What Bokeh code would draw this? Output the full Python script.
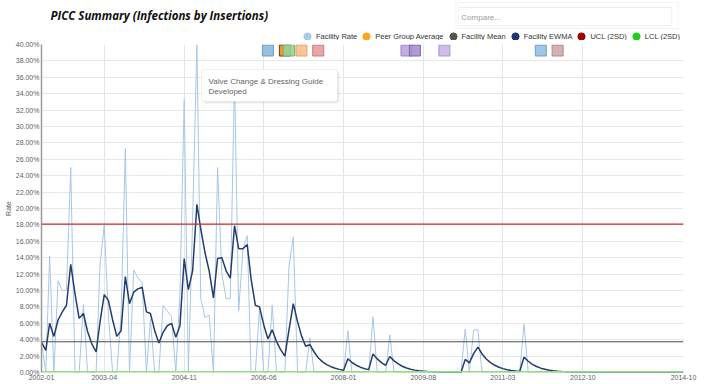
import pandas as pd
from bokeh.plotting import figure
from bokeh.layouts import column
from bokeh.models import (Range1d, FixedTicker, PrintfTickFormatter, DatetimeTickFormatter,
                          Span, Label, BoxAnnotation, Legend, LegendItem, ColumnDataSource)
from bokeh.embed import file_html
from bokeh.resources import INLINE

# ---------------- data ----------------
START_MONTH = "2002-01"
END_MONTH = "2014-10"

facility_rate = [
    3.7, 0, 14.2, 0, 11.2, 10.0, 10.0, 25.0, 0, 0,
    8.3, 0, 0, 0, 13.0, 18.0, 7.0, 0, 0, 7.0,
    27.3, 0, 12.5, 11.5, 11.0, 0, 6.5, 0, 0, 8.2,
    7.5, 6.8, 0, 9.5, 33.3, 0, 18.6, 40.0, 9.0, 6.7,
    7.0, 0, 25.0, 12.0, 9.0, 9.0, 36.0, 7.5, 15.0, 16.7,
    0, 0, 7.8, 0, 0, 8.2, 0, 0, 0, 13.0,
    16.5, 0, 0, 0, 4.2, 0, 0, 0, 0, 0,
    0, 0, 0, 5.1, 0, 0, 0, 0, 0, 6.8,
    0, 0, 0, 4.6, 0, 0, 0, 0, 0, 0,
    0, 0, 0, 0, 0, 0, 0, 0, 0, 0,
    0, 5.3, 0, 5.2, 5.2, 0, 0, 0, 0, 0,
    0, 0, 0, 0, 0, 5.9, 0, 0, 0, 0,
    0, 0, 0, 0, 0, 0, 0, 0, 0, 0,
    0, 0, 0, 0, 0, 0, 0, 0, 0, 0,
    0, 0, 0, 0, 0, 0, 0, 0, 0, 0,
    0, 0, 0, 0,
]

facility_ewma = [
    3.7, 2.7, 6.0, 4.4, 6.4, 7.4, 8.2, 13.2, 9.6, 6.6,
    7.2, 5.0, 3.5, 2.5, 6.1, 9.5, 8.8, 6.4, 4.4, 5.1,
    11.7, 8.4, 9.8, 10.2, 10.4, 7.4, 7.2, 5.1, 3.6, 4.9,
    5.7, 6.0, 4.3, 5.7, 13.9, 10.1, 12.4, 20.5, 17.5, 14.6,
    12.4, 9.1, 13.9, 14.0, 12.4, 11.5, 17.9, 15.1, 15.1, 15.6,
    11.4, 8.2, 8.0, 5.8, 4.1, 5.2, 3.8, 2.8, 2.0, 5.2,
    8.4, 6.2, 4.5, 3.2, 3.4, 2.5, 1.8, 1.3, 0.97, 0.71,
    0.52, 0.38, 0.28, 1.67, 1.22, 0.89, 0.65, 0.47, 0.35, 2.27,
    1.66, 1.21, 0.88, 1.95, 1.42, 1.04, 0.76, 0.55, 0.40, 0.29,
    0.21, 0.16, 0.11, 0.08, 0.06, 0.04, 0.03, 0.02, 0.02, 0.01,
    0.01, 1.6, 1.17, 2.3, 3.1, 2.26, 1.65, 1.21, 0.88, 0.64,
    0.47, 0.34, 0.25, 0.18, 0.13, 1.87, 1.37, 1.0, 0.73, 0.53,
    0.39, 0.28, 0.21, 0.15, 0.11, 0.08, 0.06, 0.04, 0.03, 0.02,
    0.02, 0.01, 0.01, 0.01, 0.01, 0, 0, 0, 0, 0,
    0, 0, 0, 0, 0, 0, 0, 0, 0, 0,
    0, 0, 0, 0,
]

facility_mean = 3.75
ucl_2sd = 18.1
lcl_2sd = 0.0

x_tick_labels = ["2002-01", "2003-04", "2004-11", "2006-06", "2008-01",
                 "2009-08", "2011-03", "2012-10", "2014-10"]
y_ticks = [0, 2, 4, 6, 8, 10, 12, 14, 16, 18, 20, 22, 24, 26, 28, 30, 32, 34, 36, 38, 40]

event_months = ["2006-07", "2006-11", "2006-12", "2007-03", "2007-07",
                "2009-04", "2009-06", "2010-01", "2011-12", "2012-04"]
event_fill = ["#8db9de", "#f08a1c", "#97d197", "#f8be8c", "#e89c9c",
              "#bba6da", "#a98fd0", "#c9b6e5", "#95c0e3", "#d0aaaa"]
event_line = ["#6d9cc6", "#6b4210", "#78b878", "#e0a271", "#c97a7a",
              "#9a83c0", "#7e66ad", "#a993cc", "#729fc8", "#b08888"]
event_note = ["Valve Change & Dressing Guide", "Developed"]

legend_names = ["Facility Rate", "Peer Group Average", "Facility Mean",
                "Facility EWMA", "UCL (2SD)", "LCL (2SD)"]
legend_colors = ["#a8c9ea", "#f7a81b", "#555555", "#1d3870", "#a30000", "#1ad21a"]

TITLE = "PICC Summary (Infections by Insertions)"
COMPARE_PLACEHOLDER = "Compare..."

FONT = "Liberation Sans"
W, H = 708, 384
HEADER_H = 40
FRAME_LEFT, FRAME_RIGHT, FRAME_TOP, FRAME_BOTTOM = 41, 683, 44, 372  # page pixels


def ms(m):
    return int(pd.Timestamp(m + "-01").value // 10**6)


# ---------------- header (title, compare box, legend) ----------------
hdr = figure(width=W, height=HEADER_H, output_backend="svg", toolbar_location=None,
             x_range=Range1d(0, W), y_range=Range1d(HEADER_H, 0),
             x_axis_location=None, y_axis_location=None,
             min_border_left=0, min_border_right=0, min_border_top=0, min_border_bottom=0)
hdr.grid.visible = False
hdr.outline_line_color = None
hdr.background_fill_color = "white"
hdr.border_fill_color = "white"

hdr.add_layout(Label(x=10, y=15, text=TITLE, text_font="Open Sans",
                     text_font_style="bold italic", text_font_size="11.5px",
                     text_color="#111111", text_baseline="middle"))
hdr.add_layout(BoxAnnotation(left=457, right=702, top=2, bottom=28, fill_color="white",
                             fill_alpha=1, line_color="#dddddd", line_width=1))
hdr.add_layout(BoxAnnotation(left=460, right=695, top=7, bottom=25, fill_color="white",
                             fill_alpha=1, line_color="#cccccc", line_width=1))
hdr.add_layout(Label(x=463, y=16.5, text=COMPARE_PLACEHOLDER, text_font=FONT,
                     text_font_size="8px", text_color="#9a9a9a", text_baseline="middle"))

items = []
for name, c in zip(legend_names, legend_colors):
    # one off-canvas point so the legend can draw its marker
    r = hdr.scatter(x=[-100], y=[-100], marker="circle", size=7, fill_color=c, line_color=c)
    items.append(LegendItem(label=name, renderers=[r]))
legend = Legend(items=items, orientation="horizontal", location=(257, HEADER_H - 45),
                glyph_width=18, glyph_height=18, label_height=18, label_standoff=0, spacing=0,
                padding=0, margin=0, background_fill_alpha=0, border_line_alpha=0,
                label_text_font=FONT, label_text_font_size="7.5px", label_text_color="#333333")
hdr.add_layout(legend)

# ---------------- main chart ----------------
MAIN_H = H - HEADER_H
months = pd.date_range(START_MONTH + "-01", periods=len(facility_rate), freq="MS")

p = figure(width=W, height=MAIN_H, x_axis_type="datetime",
           output_backend="svg", toolbar_location=None,
           x_range=Range1d(start=ms(START_MONTH), end=ms(END_MONTH)),
           y_range=Range1d(start=0, end=40),
           min_border_left=FRAME_LEFT, min_border_right=W - FRAME_RIGHT,
           min_border_top=FRAME_TOP - HEADER_H, min_border_bottom=H - FRAME_BOTTOM)
p.outline_line_color = None
p.background_fill_color = "white"
p.border_fill_color = "white"

for ax in (p.xaxis, p.yaxis):
    ax.major_tick_out = 0
    ax.major_tick_in = 0
    ax.minor_tick_out = 0
    ax.minor_tick_in = 0
    ax.major_tick_line_color = None
    ax.minor_tick_line_color = None
    ax.major_label_text_font = FONT
    ax.major_label_text_font_size = "7px"
    ax.major_label_text_color = "#606060"

p.yaxis.ticker = FixedTicker(ticks=y_ticks)
p.yaxis.formatter = PrintfTickFormatter(format="%.2f%%")
p.yaxis.axis_line_color = "#9a9a9a"
p.yaxis.axis_line_width = 1.5
p.yaxis.major_label_standoff = 2
p.yaxis.axis_label = "Rate"
p.yaxis.axis_label_standoff = 1
p.yaxis.axis_label_text_font = FONT
p.yaxis.axis_label_text_font_size = "7px"
p.yaxis.axis_label_text_font_style = "normal"
p.yaxis.axis_label_text_color = "#555555"

p.xaxis.ticker = FixedTicker(ticks=[ms(m) for m in x_tick_labels])
fmt = "%Y-%m"
p.xaxis.formatter = DatetimeTickFormatter(microseconds=fmt, milliseconds=fmt, seconds=fmt,
                                          minsec=fmt, minutes=fmt, hourmin=fmt, hours=fmt,
                                          days=fmt, months=fmt, years=fmt)
p.xaxis.axis_line_color = None
p.xaxis.major_label_standoff = 2

p.ygrid.grid_line_color = "#e8e8e8"
p.xgrid.ticker = FixedTicker(ticks=[ms(m) for m in x_tick_labels[1:-1]])
p.xgrid.grid_line_color = "#dfe6ee"

src = ColumnDataSource(dict(month=months, rate=facility_rate, ewma=facility_ewma))
p.line("month", "rate", source=src, line_color="#a8c6e6", line_width=1)
p.line("month", "ewma", source=src, line_color="#223d6e", line_width=1.5)

p.add_layout(Span(location=facility_mean, dimension="width", line_color="#4a4a4a", line_width=1))
p.add_layout(Span(location=ucl_2sd, dimension="width", line_color="#d02a2a", line_width=1.3))
p.add_layout(Span(location=lcl_2sd, dimension="width", line_color="#8fe07c", line_width=3))

# event flags (near top of plot)
FLAG_Y = 39.27
p.scatter(x=[ms(m) for m in event_months], y=[FLAG_Y] * len(event_months), marker="square",
          size=11, fill_color=event_fill, line_color=event_line, fill_alpha=0.9, line_width=1)


def sx(px):
    return px - FRAME_LEFT


def sy(py):
    return FRAME_BOTTOM - py


# tooltip for a flag
p.add_layout(BoxAnnotation(left=sx(203), right=sx(339), top=sy(71), bottom=sy(103),
                           left_units="screen", right_units="screen", top_units="screen",
                           bottom_units="screen", fill_color="black", fill_alpha=0.08,
                           line_color=None, border_radius=3))
p.add_layout(BoxAnnotation(left=sx(201), right=sx(337), top=sy(69), bottom=sy(101),
                           left_units="screen", right_units="screen", top_units="screen",
                           bottom_units="screen", fill_color="white", fill_alpha=1,
                           line_color="#c9c9c9", line_width=1, border_radius=3))
for k, line in enumerate(event_note):
    p.add_layout(Label(x=sx(208), y=sy(81 + 9.5 * k), x_units="screen", y_units="screen",
                       text=line, text_font=FONT, text_font_size="8px", text_color="#666666",
                       text_baseline="middle"))

layout = column(hdr, p, spacing=0)
open("out.html", "w").write(file_html(layout, INLINE))
